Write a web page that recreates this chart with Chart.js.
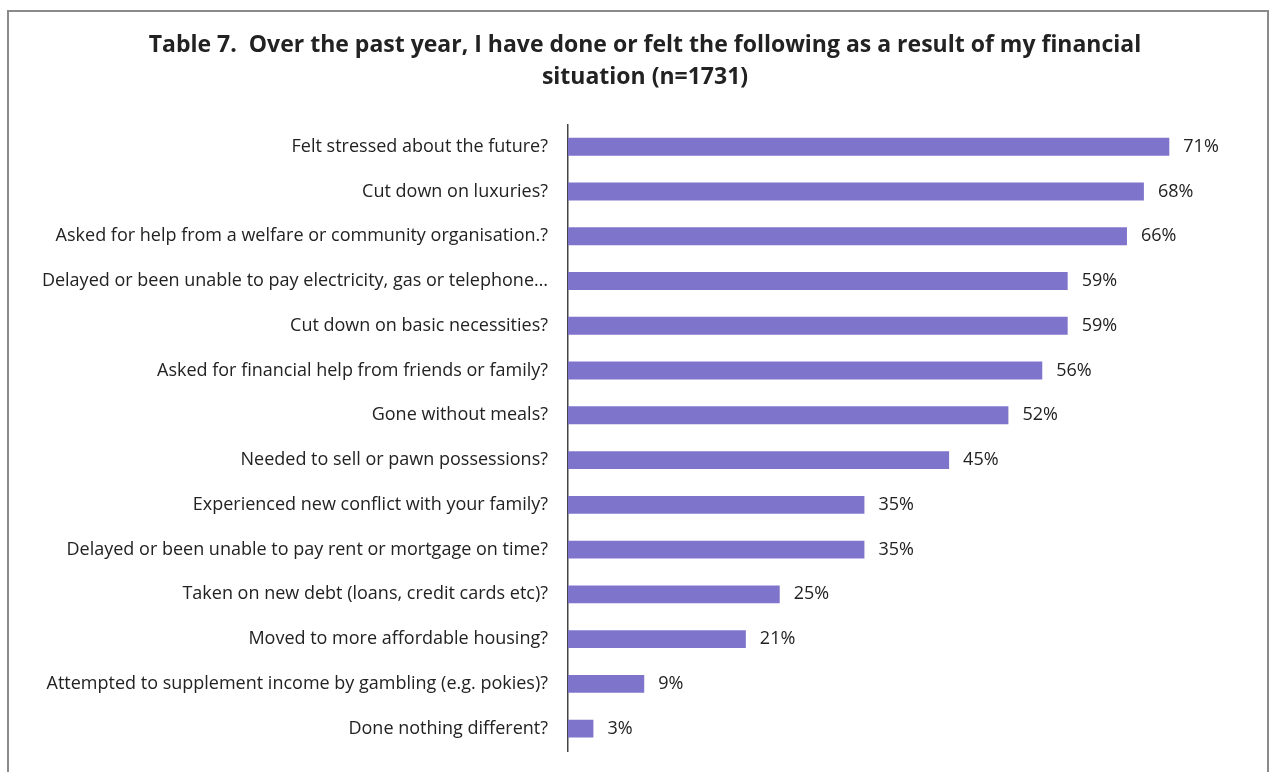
<!DOCTYPE html>
<html>
<head>
<meta charset="utf-8">
<script src="https://cdn.jsdelivr.net/npm/chart.js@4/dist/chart.umd.min.js"></script>
<style>
    html, body { margin: 0; padding: 0; background: #fff; overflow: hidden; }
    .frame {
        position: absolute; left: 7px; top: 10px; width: 1262px; height: 800px;
        border: 2px solid #8a8a8a; box-sizing: border-box;
    }
    .wrap { position: absolute; left: 0; top: 0; width: 1276px; height: 772px; }
</style>
</head>
<body>
<div class="frame"></div>
<div class="wrap"><canvas id="chart" width="1276" height="772"></canvas></div>
<script>
// DATOS
const categories = [
    'Felt stressed about the future?',
    'Cut down on luxuries?',
    'Asked for help from a welfare or community organisation.?',
    'Delayed or been unable to pay electricity, gas or telephone…',
    'Cut down on basic necessities?',
    'Asked for financial help from friends or family?',
    'Gone without meals?',
    'Needed to sell or pawn possessions?',
    'Experienced new conflict with your family?',
    'Delayed or been unable to pay rent or mortgage on time?',
    'Taken on new debt (loans, credit cards etc)?',
    'Moved to more affordable housing?',
    'Attempted to supplement income by gambling (e.g. pokies)?',
    'Done nothing different?'
];
const percents = [71, 68, 66, 59, 59, 56, 52, 45, 35, 35, 25, 21, 9, 3];
const titleLines = [
    'Table 7.  Over the past year, I have done or felt the following as a result of my financial',
    'situation (n=1731)'
];

const FONT = '"Open Sans", Lato, sans-serif';

// ETIQUETAS DE VALOR
const valueLabels = {
    id: 'valueLabels',
    afterDatasetsDraw(chart) {
        const ctx = chart.ctx;
        const meta = chart.getDatasetMeta(0);
        ctx.save();
        ctx.font = '18px ' + FONT;
        ctx.fillStyle = '#222';
        ctx.textAlign = 'left';
        ctx.textBaseline = 'middle';
        meta.data.forEach((bar, i) => {
            ctx.fillText(percents[i] + '%', bar.x + 14, bar.y);
        });
        ctx.restore();
    }
};

const chart = new Chart(
    document.getElementById('chart'),
    {
        type: 'bar',
        data: {
            labels: categories,
            datasets: [{
                data: percents,
                backgroundColor: '#7f74cc',
                borderWidth: 0,
                barPercentage: 0.8,
                categoryPercentage: 0.5
            }]
        },
        options: {
            indexAxis: 'y',
            responsive: false,
            animation: false,
            layout: { padding: { left: 36, right: 22, top: 0, bottom: 21 } },
            plugins: {
                legend: { display: false },
                tooltip: { enabled: false },
                title: {
                    display: true,
                    text: titleLines,
                    color: '#222',
                    font: { family: FONT, size: 23, weight: 'bold', lineHeight: 1.4 },
                    padding: { top: 29, bottom: 31 }
                }
            },
            scales: {
                x: {
                    display: false,
                    min: 0,
                    max: 81
                },
                y: {
                    grid: { display: false, drawTicks: false },
                    border: { display: true, color: '#444', width: 1.5 },
                    ticks: {
                        color: '#222',
                        padding: 20,
                        font: { family: FONT, size: 18 }
                    },
                    afterFit(scale) {
                        scale.width = 532;
                        scale.paddingTop = 0;
                        scale.paddingBottom = 0;
                    }
                }
            }
        },
        plugins: [valueLabels]
    }
);
</script>
</body>
</html>
